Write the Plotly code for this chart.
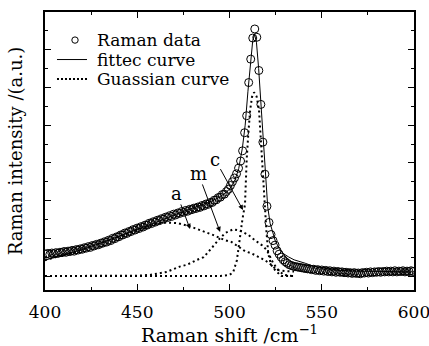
import plotly.graph_objects as go

# ---- data ----
data_x0 = 400.4
data_dx = 1.1
data_y = [
    0.58, 0.60, 0.57, 0.61, 0.59, 0.62, 0.60, 0.63, 0.62, 0.65,
    0.63, 0.66, 0.65, 0.68, 0.66, 0.70, 0.69, 0.72, 0.71, 0.75,
    0.74, 0.78, 0.76, 0.81, 0.80, 0.84, 0.83, 0.87, 0.87, 0.91,
    0.90, 0.95, 0.94, 1.00, 0.99, 1.04, 1.04, 1.09, 1.09, 1.14,
    1.13, 1.18, 1.18, 1.23, 1.22, 1.27, 1.26, 1.31, 1.30, 1.35,
    1.35, 1.40, 1.39, 1.44, 1.43, 1.48, 1.47, 1.52, 1.51, 1.56,
    1.55, 1.60, 1.58, 1.64, 1.62, 1.67, 1.66, 1.71, 1.69, 1.74,
    1.72, 1.77, 1.76, 1.80, 1.79, 1.83, 1.82, 1.87, 1.86, 1.91,
    1.90, 1.95, 1.95, 2.01, 2.02, 2.08, 2.09, 2.16, 2.17, 2.24,
    2.30, 2.40, 2.50, 2.60, 2.71, 2.86, 3.05, 3.32, 3.80, 4.25,
    5.13, 5.75, 6.31, 6.55, 6.33, 5.45, 4.55, 3.55, 2.70, 1.85,
    1.42, 1.10, 0.94, 0.82, 0.67, 0.58, 0.50, 0.43, 0.38, 0.34,
    0.30, 0.28, 0.26, 0.25, 0.24, 0.23, 0.22, 0.21, 0.20, 0.19,
    0.19, 0.17, 0.18, 0.15, 0.17, 0.14, 0.16, 0.13, 0.15, 0.12,
    0.14, 0.11, 0.13, 0.10, 0.12, 0.10, 0.11, 0.09, 0.10, 0.08,
    0.09, 0.07, 0.09, 0.07, 0.08, 0.06, 0.09, 0.08, 0.10, 0.08,
    0.11, 0.09, 0.11, 0.10, 0.12, 0.10, 0.12, 0.11, 0.13, 0.11,
    0.13, 0.11, 0.14, 0.11, 0.13, 0.12, 0.14, 0.11, 0.13, 0.12,
    0.14, 0.12,
]

fit_x = [400, 410, 420, 430, 440, 450, 460, 470, 480, 490, 495, 500, 503, 505,
         507, 508.5, 510, 511.5, 512.6, 513.6, 514.6, 515.8, 517, 518.4, 519.5,
         520.7, 522, 523.3, 524.7, 527, 529, 531.9, 535, 541, 545, 550, 555,
         560, 570, 580, 590, 600]
fit_y = [0.42, 0.55, 0.70, 0.87, 1.05, 1.23, 1.42, 1.62, 1.80, 1.98, 2.10, 2.30,
         2.55, 2.85, 3.40, 4.00, 4.90, 5.75, 6.25, 6.40, 6.20, 5.50, 4.55, 3.75,
         2.75, 1.84, 1.40, 1.15, 0.95, 0.72, 0.60, 0.51, 0.43, 0.34, 0.27, 0.22,
         0.18, 0.15, 0.13, 0.12, 0.11, 0.11]

a_x = [400, 410, 420, 430, 440, 450, 458, 466, 472, 479, 485, 491, 497.6, 501.2,
       504.8, 508.4, 512, 515.6, 519.2, 522.9, 524.7, 527, 530, 535]
a_y = [0.42, 0.55, 0.70, 0.87, 1.05, 1.22, 1.36, 1.42, 1.40, 1.31, 1.21, 1.09,
       0.95, 0.90, 0.78, 0.66, 0.60, 0.51, 0.42, 0.29, 0.20, 0.15, 0.13, 0.12]

m_x = [400, 430, 450, 457, 466, 473, 477, 482, 486, 489.4, 494.8, 498, 502,
       506, 510.2, 513.8, 517.5, 520.2, 522, 523.7, 526.4, 529.2, 532, 535]
m_y = [0, 0, 0.01, 0.03, 0.11, 0.25, 0.30, 0.42, 0.50, 0.69, 1.00, 1.15, 1.24,
       1.20, 1.09, 0.95, 0.82, 0.69, 0.51, 0.34, 0.16, 0.04, 0.01, 0]

c_x = [400, 495, 500, 502, 504, 505.7, 507, 508.4, 508.8, 509.3, 510.2, 511.2,
       512.2, 513.3, 514.7, 516, 517, 518, 519, 520, 521, 522.5, 524.7, 528, 535]
c_y = [0, 0, 0.03, 0.10, 0.42, 1.13, 1.50, 1.90, 2.50, 3.08, 3.78, 4.40, 4.75,
       4.87, 4.76, 4.40, 3.60, 2.70, 1.90, 1.20, 0.60, 0.30, 0.16, 0, 0]

labels = ["a", "m", "c"]
label_x = [471.4, 483.1, 492.1]
label_y = [2.19, 2.72, 3.10]
arrow_tip_x = [478.6, 494.9, 507.3]
arrow_tip_y = [1.25, 1.17, 1.75]

x_ticks = [400, 450, 500, 550, 600]

legend_names = ["Raman data", "fittec curve", "Guassian curve"]

FONT = "DejaVu Serif"

fig = go.Figure()
fig.add_trace(go.Scatter(
    x0=data_x0, dx=data_dx, y=data_y, mode="markers", name=legend_names[0],
    marker=dict(symbol="circle-open", size=8, color="black", line=dict(width=1)),
))
fig.add_trace(go.Scatter(
    x=fit_x, y=fit_y, mode="lines", name=legend_names[1],
    line=dict(color="black", width=1),
))
dot = dict(color="black", width=2, dash="2px,3px")
for gx, gy in ((a_x, a_y), (m_x, m_y), (c_x, c_y)):
    fig.add_trace(go.Scatter(x=gx, y=gy, mode="lines", name=legend_names[2],
                             line=dot))

# labels with arrows: text sits at the arrow tail, arrow points to the curve
for t, lx, ly, hx, hy in zip(labels, label_x, label_y, arrow_tip_x, arrow_tip_y):
    fig.add_annotation(x=hx, y=hy, ax=lx, ay=ly, axref="x", ayref="y",
                       text=t, showarrow=True, arrowhead=2, arrowsize=1,
                       arrowwidth=1, arrowcolor="black", borderpad=0,
                       font=dict(family=FONT, size=18, color="black"))

# ---- legend (drawn in plot-area paper coordinates) ----
PW, PH = 369.0, 278.0   # plot area size in px
leg_y = [0.899, 0.829, 0.759]
leg_text_x = 0.1374
leg_sample_x0, leg_sample_x1 = 0.0325, 0.1138
circ_x = 0.0813
r = 3.2
fig.add_shape(type="circle", xref="paper", yref="paper",
              x0=circ_x - r / PW, x1=circ_x + r / PW,
              y0=leg_y[0] - r / PH, y1=leg_y[0] + r / PH,
              line=dict(color="black", width=1))
fig.add_shape(type="line", xref="paper", yref="paper",
              x0=leg_sample_x0, x1=leg_sample_x1, y0=leg_y[1], y1=leg_y[1],
              line=dict(color="black", width=1))
fig.add_shape(type="line", xref="paper", yref="paper",
              x0=leg_sample_x0, x1=leg_sample_x1, y0=leg_y[2], y1=leg_y[2],
              line=dict(color="black", width=2, dash="2px,2px"))
for name, ly in zip(legend_names, leg_y):
    fig.add_annotation(xref="paper", yref="paper", x=leg_text_x, y=ly,
                       xanchor="left", yanchor="middle", text=name,
                       showarrow=False, borderpad=0,
                       font=dict(family=FONT, size=17, color="black"))

axis_common = dict(
    showline=True, linecolor="black", linewidth=1.5, mirror="ticks",
    ticks="inside", tickcolor="black", tickwidth=1, ticklen=6,
    showgrid=False, zeroline=False, automargin=False,
)

fig.update_xaxes(
    range=[400, 600], tickvals=x_ticks, ticktext=[str(v) for v in x_ticks],
    minor=dict(ticks="inside", ticklen=3, tickcolor="black", dtick=25, tick0=400),
    title=dict(text="Raman shift /cm<sup>−1</sup>", standoff=10,
               font=dict(family=FONT, size=19, color="black")),
    tickfont=dict(family=FONT, size=17, color="black"),
    ticklabeloverflow="allow", ticklabelstandoff=6,
    **axis_common,
)
fig.update_yaxes(
    range=[-0.37, 7.0], dtick=1, tick0=0, showticklabels=False,
    minor=dict(ticks="inside", ticklen=3, tickcolor="black", dtick=0.5, tick0=0),
    title=dict(text="Raman intensity /(a.u.)", standoff=16,
               font=dict(family=FONT, size=18, color="black")),
    **axis_common,
)

fig.update_layout(
    width=429, height=346,
    margin=dict(l=45, r=15, t=12, b=56),
    paper_bgcolor="white", plot_bgcolor="white",
    font=dict(family=FONT, size=16, color="black"),
    showlegend=False,
)

fig.write_html("out.html")
